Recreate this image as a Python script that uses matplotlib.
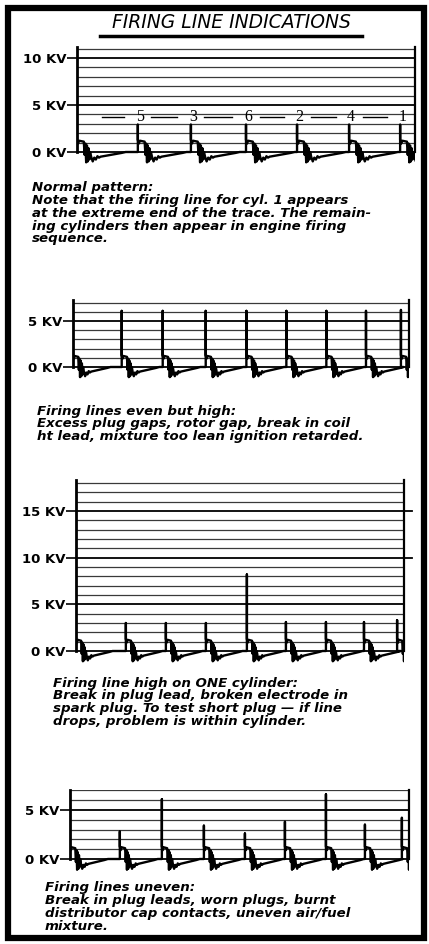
import matplotlib
matplotlib.use("Agg")
import matplotlib.pyplot as plt
from matplotlib.lines import Line2D
from matplotlib.patches import Rectangle

# one cylinder's trace after the firing line: phase (fraction of a cylinder period), kV
tpl_phase = [0.00, 0.02, 0.04, 0.13, 0.145, 0.16, 0.175, 0.19, 0.205, 0.22, 0.235,
             0.25, 0.27, 0.30, 0.33, 0.36, 0.39, 0.42, 0.45, 0.55, 0.70, 0.85, 0.93]
tpl_kv = [1.3, 0.9, 1.2, 1.1, -0.3, 0.9, -1.1, 0.7, -1.0, 0.4, -0.8,
          0.0, -0.5, -1.0, -0.6, -0.8, -0.45, -0.6, -0.5, -0.4, -0.25, -0.1, 0.0]

# firing lines: sweep position (% of trace) and height (kV)
p1_fire = [18.0, 33.7, 50.0, 65.1, 80.5, 95.6]
p1_kv = [2.9, 2.9, 2.9, 2.9, 2.9, 2.9]
p1_order = ["5", "3", "6", "2", "4", "1"]

p2_fire = [14.5, 26.7, 39.5, 51.6, 63.5, 75.4, 87.2, 97.6]
p2_kv = [6.1, 6.1, 6.1, 6.1, 6.1, 6.1, 6.1, 6.2]

p3_fire = [15.2, 27.4, 39.6, 52.1, 64.0, 76.2, 87.8, 97.9]
p3_kv = [3.0, 3.0, 3.0, 8.2, 3.1, 3.1, 3.1, 3.3]

p4_fire = [14.7, 27.1, 39.5, 51.6, 63.4, 75.5, 87.0, 97.9]
p4_kv = [2.8, 6.1, 3.4, 2.6, 3.8, 6.6, 3.5, 4.2]

cap1 = ["Normal pattern:",
        "Note that the firing line for cyl. 1 appears",
        "at the extreme end of the trace. The remain-",
        "ing cylinders then appear in engine firing",
        "sequence."]
cap2 = ["Firing lines even but high:",
        "Excess plug gaps, rotor gap, break in coil",
        "ht lead, mixture too lean ignition retarded."]
cap3 = ["Firing line high on ONE cylinder:",
        "Break in plug lead, broken electrode in",
        "spark plug. To test short plug \u2014 if line",
        "drops, problem is within cylinder."]
cap4 = ["Firing lines uneven:",
        "Break in plug leads, worn plugs, burnt",
        "distributor cap contacts, uneven air/fuel",
        "mixture."]

W, H = 429, 944
fig = plt.figure(figsize=(W / 100, H / 100), dpi=100)
fig.patch.set_facecolor("white")


def fx(px):
    return px / W


def fy(py):
    return 1 - py / H


def panel(left, right, zero_px, px_kv, top_kv, grid_top, ticks, fire, kv, period):
    ylo = -1.6
    bot_px = zero_px - ylo * px_kv
    top_px = zero_px - top_kv * px_kv
    ax = fig.add_axes([fx(left), fy(bot_px), fx(right - left), (bot_px - top_px) / H])
    ax.set_xlim(0, 100)
    ax.set_ylim(ylo, top_kv)
    for s in ax.spines.values():
        s.set_visible(False)
    ax.set_xticks([])
    ax.set_yticks(ticks)
    ax.set_yticklabels([f"{t} KV" for t in ticks], fontweight="bold", fontsize=9.5)
    ax.tick_params(axis="y", length=7, width=1.2, pad=0.5)
    ax.patch.set_alpha(0)

    for g in range(grid_top + 1):
        if g in ticks:
            ax.axhline(g, color="black", lw=1.3)
        else:
            ax.axhline(g, color="#3a3a3a", lw=0.9)
    ax.plot([0, 0], [0, top_kv], color="black", lw=2.0, clip_on=False)
    ax.plot([100, 100], [0, top_kv], color="black", lw=1.6, clip_on=False)

    xs, ys = [], []

    def add_cycle(x0):
        for p, v in zip(tpl_phase, tpl_kv):
            xs.append(x0 + p * period)
            ys.append(v)

    add_cycle(0)
    for f, h in zip(fire, kv):
        xs.extend([f, f])
        ys.extend([0, h])
        add_cycle(f)
    ax.plot(xs, ys, color="black", lw=1.7)
    return ax


ax1 = panel(77, 415, 152, 9.4, 11.2, 11, [0, 5, 10], p1_fire, p1_kv, 15.5)
# firing order labels with dashes
gap = 4.0
ax1.plot([7.4, p1_fire[0] - gap], [3.7, 3.7], color="black", lw=1.0)
for i, (f, lab) in enumerate(zip(p1_fire, p1_order)):
    ax1.text(f + 0.6, 3.7, lab, ha="center", va="center", fontsize=11.5,
             family="Liberation Serif")
    if i + 1 < len(p1_fire):
        ax1.plot([f + gap, p1_fire[i + 1] - gap], [3.7, 3.7], color="black", lw=1.0)

ax2 = panel(73, 409, 367, 9.2, 7.3, 7, [0, 5], p2_fire, p2_kv, 12.0)
ax3 = panel(76, 404, 651, 9.33, 18.3, 18, [0, 5, 10, 15], p3_fire, p3_kv, 12.0)
for g in [10, 15]:
    ax3.plot([100, 102.5], [g, g], color="black", lw=1.3, clip_on=False)
ax4 = panel(70, 409, 859, 9.8, 7.05, 7, [0, 5], p4_fire, p4_kv, 12.0)

# title and underline
fig.text(fx(231), fy(22), "FIRING LINE INDICATIONS", ha="center", va="center",
         style="italic", fontsize=13.5)
fig.add_artist(Line2D([fx(100), fx(362)], [fy(36), fy(36)], color="black", lw=2.5))

# captions
for lines, x0, y0 in [(cap1, 32, 188), (cap2, 37, 411), (cap3, 53, 683), (cap4, 45, 888)]:
    for i, line in enumerate(lines):
        fig.text(fx(x0), fy(y0 + i * 12.7), line, ha="left", va="center",
                 fontsize=9.6, fontweight="bold", style="italic")

# outer frame
fig.add_artist(Rectangle((fx(8), fy(938)), fx(416), (938 - 7.5) / H,
                         transform=fig.transFigure, fill=False, ec="black", lw=4.5))

fig.savefig("out.png", dpi=100)
